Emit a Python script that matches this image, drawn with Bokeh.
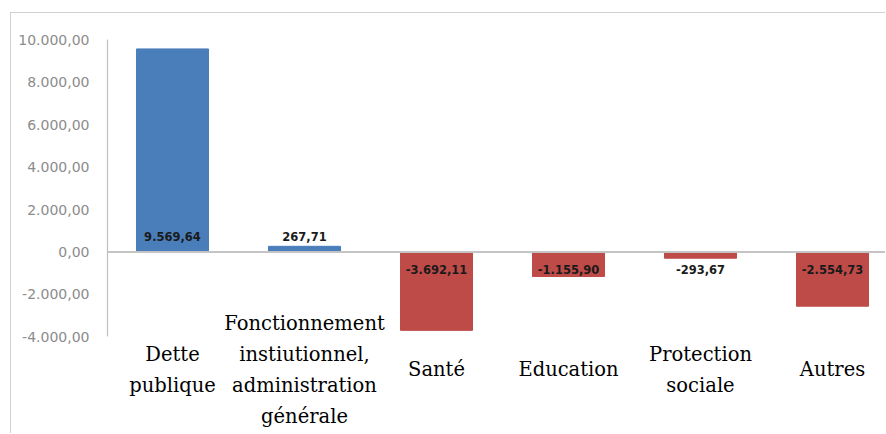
from bokeh.plotting import figure
from bokeh.models import ColumnDataSource, FixedTicker, Span, Range1d
from bokeh.core.properties import value
from bokeh.embed import file_html
from bokeh.resources import INLINE

# ---- data ----
categories = ["Dette\npublique",
              "Fonctionnement\ninstiutionnel,\nadministration\ngénérale",
              "Santé", "Education", "Protection\nsociale", "Autres"]
values = [9569.64, 267.71, -3692.11, -1155.90, -293.67, -2554.73]
y_ticks = [-4000, -2000, 0, 2000, 4000, 6000, 8000, 10000]


def fr(v):
    s = f"{v:,.2f}"
    return s.replace(",", " ").replace(".", ",").replace(" ", ".")


BLUE = "#4a7ebb"
RED = "#be4b48"

xs = list(range(len(values)))
src = ColumnDataSource(dict(
    x=xs,
    top=values,
    color=[BLUE if v >= 0 else RED for v in values],
    label=[fr(v) for v in values],
    zero=[0] * len(values),
    yoff=[-16 if v >= 0 else 17 for v in values],
))
cat_src = ColumnDataSource(dict(x=xs, y=[min(y_ticks)] * len(xs), text=categories))

W, H = 875, 421
p = figure(width=W, height=H, output_backend="svg", toolbar_location=None,
           x_range=Range1d(-0.4924, 5.409), y_range=Range1d(-8600, 11239),
           min_border_left=96, min_border_right=0, min_border_top=0, min_border_bottom=0)

p.styles = {"margin-left": "10px", "margin-top": "12px",
            "border-left": "1px solid #d0d0d0", "border-top": "1px solid #d0d0d0"}

p.background_fill_color = "white"
p.border_fill_color = "white"
p.outline_line_color = None
p.grid.visible = False
p.xaxis.visible = False

# y axis
ya = p.yaxis[0]
ya.ticker = FixedTicker(ticks=y_ticks)
ya.major_label_overrides = {t: fr(t) for t in y_ticks}
ya.bounds = (min(y_ticks), max(y_ticks))
ya.axis_line_color = "#bfbfbf"
ya.axis_line_width = 1.2
ya.major_tick_line_color = None
ya.minor_tick_line_color = None
ya.major_label_standoff = 12
ya.major_label_text_font = "DejaVu Sans"
ya.major_label_text_font_size = "14px"
ya.major_label_text_color = "#8c8c8c"

# zero line
p.add_layout(Span(location=0, dimension="width", line_color="#c4c4c4", line_width=2))

# bars
p.vbar(x="x", top="top", bottom=0, width=72 / 132, color="color", source=src)

# data labels
p.text(x="x", y="zero", text="label", y_offset="yoff", source=src,
       text_align="center", text_baseline="middle",
       text_font=value("DejaVu Sans"), text_font_style="bold",
       text_font_size="11.5px", text_color="#1a1a1a")

# category labels
p.text(x="x", y="y", text="text", source=cat_src, y_offset=33,
       text_align="center", text_baseline="middle", text_line_height=1.35,
       text_font=value("DejaVu Serif"), text_font_size="19.5px",
       text_color="#000000")

open("out.html", "w").write(file_html(p, INLINE))
